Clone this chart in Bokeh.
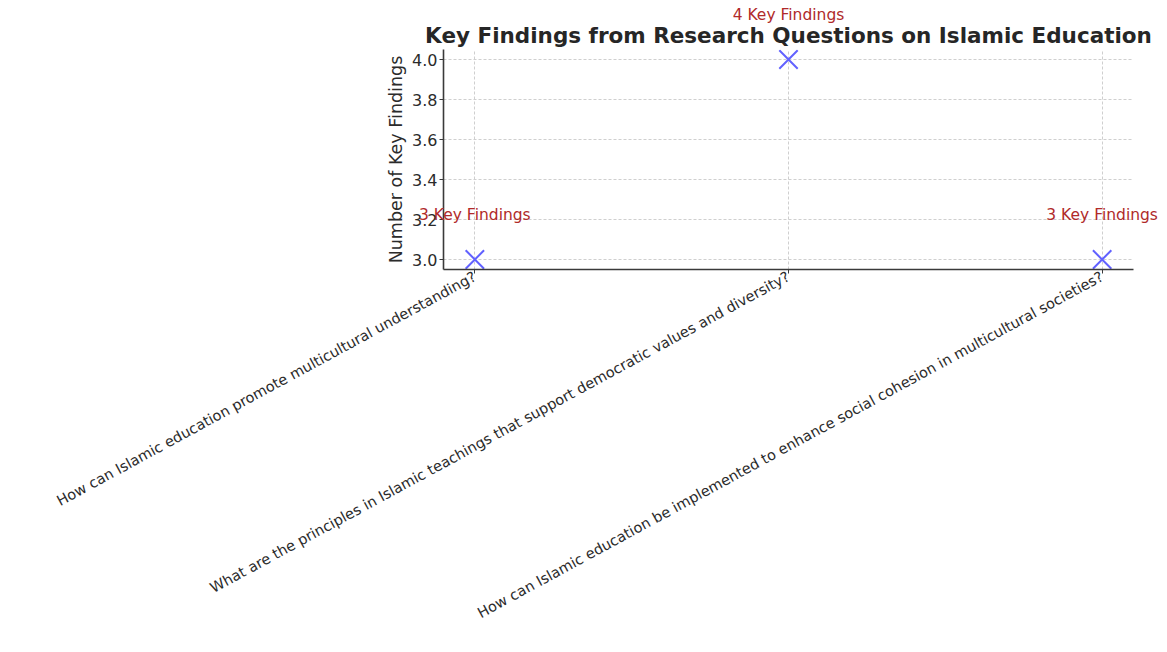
import math
from bokeh.plotting import figure
from bokeh.models import Range1d, FixedTicker, Label, ColumnDataSource, CustomJSTickFormatter
from bokeh.embed import file_html
from bokeh.resources import INLINE

questions = [
    "How can Islamic education promote multicultural understanding?",
    "What are the principles in Islamic teachings that support democratic values and diversity?",
    "How can Islamic education be implemented to enhance social cohesion in multicultural societies?",
]
findings = [3, 4, 3]
annotations = ["3 Key Findings", "4 Key Findings", "3 Key Findings"]
y_ticks = [3.0, 3.2, 3.4, 3.6, 3.8, 4.0]
positions = list(range(len(questions)))

FONT = "DejaVu Sans"
TXT = "#2b2b2b"

p = figure(width=1159, height=636, output_backend="svg", toolbar_location=None,
           x_range=Range1d(-0.1, 2.1), y_range=Range1d(2.95, 4.05),
           min_border_left=443, min_border_right=26, min_border_top=49,
           min_border_bottom=367)

p.title.text = "Key Findings from Research Questions on Islamic Education"
p.title.align = "center"
p.title.text_font = FONT
p.title.text_font_size = "21.5px"
p.title.text_font_style = "bold"
p.title.text_color = "#262626"
p.title.offset = 0
p.title.standoff = 3

src = ColumnDataSource(dict(x=positions, y=findings))
p.scatter("x", "y", source=src, marker="x", size=26, line_width=2,
          line_color="#6262ff")

# value labels live in the (wide) left side panel so the frame does not clip them;
# they are still positioned in data coordinates
for xv, yv, t in zip(positions, findings, annotations):
    lab = Label(x=xv, y=yv + 0.2, text=t, text_align="center",
                text_baseline="middle", y_offset=5, text_font=FONT,
                text_font_size="15.5px", text_color="#b02a2a")
    p.add_layout(lab, "left")

p.outline_line_color = None
p.background_fill_color = "white"
p.border_fill_color = "white"

p.xaxis.ticker = FixedTicker(ticks=positions)
p.xaxis.major_label_overrides = {i: q for i, q in zip(positions, questions)}
p.xaxis.major_label_orientation = math.radians(28.5)
p.yaxis.ticker = FixedTicker(ticks=y_ticks)
p.yaxis.formatter = CustomJSTickFormatter(code="return tick.toFixed(1);")
p.yaxis.axis_label = "Number of Key Findings"

for ax in (p.xaxis[0], p.yaxis[0]):
    ax.axis_line_color = "#3a3a3a"
    ax.axis_line_width = 1.6
    ax.major_tick_line_color = "#3a3a3a"
    ax.major_tick_out = 4
    ax.major_tick_in = 0
    ax.minor_tick_line_color = None
    ax.major_label_text_font = FONT
    ax.major_label_text_color = TXT
    ax.axis_label_text_font = FONT
    ax.axis_label_text_font_size = "17.5px"
    ax.axis_label_text_font_style = "normal"
    ax.axis_label_text_color = TXT
    ax.major_label_standoff = 2
p.xaxis.major_label_text_font_size = "14.5px"
p.yaxis.major_label_text_font_size = "16px"
p.yaxis.axis_label_standoff = 3

for g in (p.xgrid[0], p.ygrid[0]):
    g.grid_line_color = "#cfcfcf"
    g.grid_line_dash = "3 2"
    g.grid_line_width = 1
p.xgrid.ticker = p.xaxis[0].ticker
p.ygrid.ticker = p.yaxis[0].ticker

open("out.html", "w").write(file_html(p, INLINE))
